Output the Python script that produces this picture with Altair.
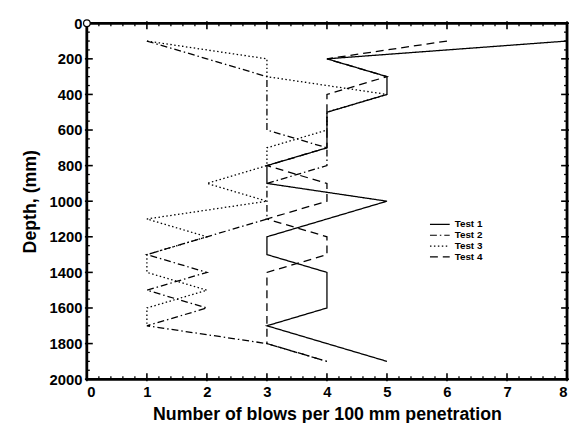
import altair as alt
import pandas as pd

# ---- data ----
test_names = ["Test 1", "Test 2", "Test 3", "Test 4"]

test1_depth = [100, 200, 300, 400, 500, 600, 700, 800, 900, 1000, 1100, 1200, 1300, 1400, 1500, 1600, 1700, 1800, 1900]
test1_blows = [8, 4, 5, 5, 4, 4, 4, 3, 3, 5, 4, 3, 3, 4, 4, 4, 3, 4, 5]

test2_depth = [100, 200, 300, 400, 500, 600, 700, 800, 900, 1000, 1100, 1200, 1300, 1400, 1500, 1600, 1700, 1800, 1900]
test2_blows = [1, 2, 3, 3, 3, 3, 4, 4, 3, 3, 3, 2, 1, 2, 1, 2, 1, 3, 4]

test3_depth = [100, 200, 300, 400, 500, 600, 700, 800, 900, 1000, 1100, 1200, 1300, 1400, 1500, 1600, 1700]
test3_blows = [1, 3, 3, 5, 4, 4, 3, 3, 2, 3, 1, 2, 1, 1, 2, 1, 1]

test4_depth = [100, 200, 300, 400, 500, 600, 700, 800, 900, 1000, 1100, 1200, 1300, 1400, 1500, 1600, 1700, 1800, 1900]
test4_blows = [6, 4, 5, 4, 4, 4, 4, 3, 4, 4, 3, 4, 4, 3, 3, 3, 3, 3, 4]

x_domain = [0, 8]
y_domain = [0, 2000]
x_major = [0, 1, 2, 3, 4, 5, 6, 7, 8]
x_minor = [round(i * 0.2, 1) for i in range(41) if i % 5 != 0]
y_major = [0, 200, 400, 600, 800, 1000, 1200, 1400, 1600, 1800, 2000]
y_minor = [i * 50 for i in range(41) if i % 4 != 0]

origin_x = [0]
origin_depth = [0]

# ---- build tables ----
rows = []
for name, d, b in zip(test_names,
                      [test1_depth, test2_depth, test3_depth, test4_depth],
                      [test1_blows, test2_blows, test3_blows, test4_blows]):
    for i, (dd, bb) in enumerate(zip(d, b)):
        rows.append({"test": name, "depth": dd, "blows": bb, "seq": i})
df = pd.DataFrame(rows)

W, H = 487, 361
FONT = "Liberation Sans"

xscale = alt.Scale(domain=x_domain, nice=False, zero=False)
yscale = alt.Scale(domain=y_domain, nice=False, reverse=True)

x_axis = alt.Axis(values=x_major, format="d", ticks=False, domain=False, grid=False,
                  labelOverlap=False,
                  labelFont=FONT, labelFontWeight="bold", labelFontSize=15,
                  labelColor="black", labelPadding=6,
                  title="Number of blows per 100 mm penetration",
                  titleFont=FONT, titleFontWeight="bold", titleFontSize=18,
                  titleColor="black", titlePadding=6)
y_axis = alt.Axis(values=y_major, format="d", ticks=False, domain=False, grid=False,
                  labelOverlap=False,
                  labelFont=FONT, labelFontWeight="bold", labelFontSize=15,
                  labelColor="black", labelPadding=5,
                  title="Depth, (mm)",
                  titleFont=FONT, titleFontWeight="bold", titleFontSize=18,
                  titleColor="black", titlePadding=10)

lines = alt.Chart(df).mark_line(color="black", strokeWidth=1.3).encode(
    x=alt.X("blows:Q", scale=xscale, axis=x_axis),
    y=alt.Y("depth:Q", scale=yscale, axis=y_axis),
    strokeDash=alt.StrokeDash(
        "test:N",
        scale=alt.Scale(domain=test_names,
                        range=[[1, 0], [7, 3, 1.5, 3], [1.5, 2.5], [8, 5]]),
        legend=alt.Legend(title=None, orient="none", legendX=352, legendY=198,
                          symbolType="M-2,0L2,0", symbolSize=100,
                          symbolStrokeWidth=1.2, symbolStrokeColor="black",
                          symbolFillColor="transparent",
                          labelFont=FONT, labelFontWeight="bold", labelFontSize=10,
                          labelColor="black", labelOffset=9, rowPadding=0, padding=0)),
    order=alt.Order("seq:Q"),
)

def xticks(values, field, y0, y1, w):
    return alt.Chart(pd.DataFrame({field: values})).mark_rule(color="black", strokeWidth=w).encode(
        x=alt.X(f"{field}:Q", scale=xscale, axis=x_axis), y=alt.value(y0), y2=alt.value(y1))

def yticks(values, field, x0, x1, w):
    return alt.Chart(pd.DataFrame({field: values})).mark_rule(color="black", strokeWidth=w).encode(
        y=alt.Y(f"{field}:Q", scale=yscale, axis=y_axis), x=alt.value(x0), x2=alt.value(x1))

ticks = [
    xticks(x_major, "xb", H + 2, H - 6, 1.6), xticks(x_minor, "xbm", H, H - 3, 1.3),
    xticks(x_major, "xt", -2, 6, 1.6), xticks(x_minor, "xtm", 0, 3, 1.3),
    yticks(y_major, "yl", -2, 6, 1.6), yticks(y_minor, "ylm", 0, 3, 1.3),
    yticks(y_major, "yr", W + 2, W - 6, 1.6), yticks(y_minor, "yrm", W, W - 3, 1.3),
]

frame = [
    xticks(x_domain, "fx", -1, H + 1, 2.5),
    yticks(y_domain, "fy", -1, W + 1, 2.5),
]

origin = alt.Chart(pd.DataFrame({"ox": origin_x, "od": origin_depth})).mark_point(
    filled=True, fill="white", stroke="black", strokeWidth=1.2, size=45, opacity=1
).encode(
    x=alt.X("ox:Q", scale=xscale, axis=x_axis),
    y=alt.Y("od:Q", scale=yscale, axis=y_axis),
)

chart = alt.layer(lines, *ticks, *frame, origin).properties(
    width=W, height=H,
    autosize=alt.AutoSizeParams(type="none"),
    padding={"left": 80, "top": 12.5, "right": 2, "bottom": 41.5},
).configure_view(stroke="black", strokeWidth=2.5)

chart.save("out.html", embed_options={"renderer": "svg", "actions": False})
